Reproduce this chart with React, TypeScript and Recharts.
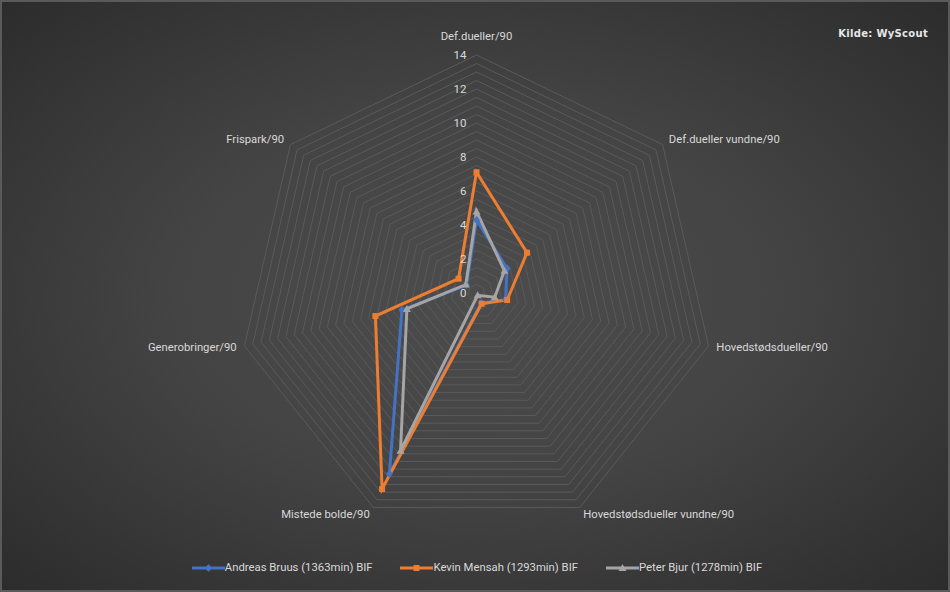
import {
  PolarAngleAxis,
  PolarGrid,
  PolarRadiusAxis,
  Radar,
  RadarChart,
} from 'recharts';

const metrics = [
  'Def.dueller/90',
  'Def.dueller vundne/90',
  'Hovedstødsdueller/90',
  'Hovedstødsdueller vundne/90',
  'Mistede bolde/90',
  'Generobringer/90',
  'Frispark/90',
];
const andreas = [4.3, 2.3, 1.75, 0.65, 11.8, 4.5, 0.75];
const kevin = [7.1, 3.8, 1.85, 0.7, 12.8, 6.1, 1.35];
const peter = [4.8, 2.1, 1.1, 0.15, 10.3, 4.2, 0.8];

const seriesNames = [
  'Andreas Bruus (1363min) BIF',
  'Kevin Mensah (1293min) BIF',
  'Peter Bjur (1278min) BIF',
];
const seriesColors = ['#4472C4', '#ED7D31', '#A5A5A5'];
const seriesMarkers = ['diamond', 'square', 'triangle'];

const radiusTicks = [0, 2, 4, 6, 8, 10, 12, 14];
const gridLevels = Array.from({ length: 29 }, (_, i) => i * 0.5);

const W = 950;
const H = 592;
const CX = 476.5;
const CY = 293;
const R = 238;
const MAX = 14;
const FONT = 'Roboto, "Liberation Sans", sans-serif';

const data = metrics.map((m, i) => ({
  metric: m,
  andreas: andreas[i],
  kevin: kevin[i],
  peter: peter[i],
}));

function Marker({ cx, cy, kind, color }: { cx: number; cy: number; kind: string; color: string }) {
  if (kind === 'square') {
    return <rect x={cx - 3} y={cy - 3} width={6} height={6} fill={color} />;
  }
  if (kind === 'triangle') {
    return <path d={`M${cx},${cy - 4}L${cx + 4},${cy + 3}L${cx - 4},${cy + 3}Z`} fill={color} />;
  }
  return <path d={`M${cx},${cy - 4}L${cx + 3.5},${cy}L${cx},${cy + 4}L${cx - 3.5},${cy}Z`} fill={color} />;
}

const makeDot = (i: number) => (props: any) => (
  <Marker
    key={`dot-${i}-${props.index}`}
    cx={props.cx}
    cy={props.cy}
    kind={seriesMarkers[i]}
    color={seriesColors[i]}
  />
);

function AngleTick(props: any) {
  const { x, y, textAnchor, payload } = props;
  const top = textAnchor === 'middle';
  return (
    <text
      x={x}
      y={y}
      dy={top ? -11 : 0}
      textAnchor={textAnchor}
      dominantBaseline="central"
      fill="#d9d9d9"
      fontSize={11.3}
      fontFamily={FONT}
    >
      {payload.value}
    </text>
  );
}

function RadiusTick(props: any) {
  const { x, y, payload } = props;
  return (
    <text
      x={x - 10}
      y={y}
      textAnchor="end"
      dominantBaseline="central"
      fill="#d9d9d9"
      fontSize={11.5}
      fontFamily={FONT}
    >
      {payload.value}
    </text>
  );
}

export default function App() {
  const keys = ['andreas', 'kevin', 'peter'];
  return (
    <div
      style={{
        position: 'absolute',
        left: 0,
        top: 0,
        width: W,
        height: H,
        boxSizing: 'border-box',
        border: '2px solid #5a5a5a',
        background: 'radial-gradient(ellipse at 50% 50%, #4c4c4c 0%, #444444 45%, #2c2c2c 100%)',
        fontFamily: FONT,
      }}
    >
      <div style={{ position: 'absolute', left: -2, top: -2 }}>
        <RadarChart
          width={W}
          height={H}
          data={data}
          cx={CX}
          cy={CY}
          outerRadius={R}
          margin={{ top: 0, right: 0, bottom: 0, left: 0 }}
        >
          <PolarGrid
            gridType="polygon"
            radialLines={false}
            polarRadius={gridLevels.map((v) => (v / MAX) * R)}
            stroke="#5a5a5a"
            strokeWidth={1}
          />
          <PolarAngleAxis dataKey="metric" tick={<AngleTick />} tickLine={false} axisLine={false} tickSize={8} />
          <PolarRadiusAxis
            angle={90}
            domain={[0, MAX]}
            ticks={radiusTicks as any}
            tick={<RadiusTick />}
            axisLine={false}
            tickLine={false}
          />
          {keys.map((k, i) => (
            <Radar
              key={k}
              name={seriesNames[i]}
              dataKey={k}
              stroke={seriesColors[i]}
              strokeWidth={3}
              fill="none"
              fillOpacity={0}
              dot={makeDot(i)}
              isAnimationActive={false}
            />
          ))}
        </RadarChart>
      </div>
      <div
        style={{
          position: 'absolute',
          right: 20,
          top: 26,
          color: '#e6e6e6',
          fontSize: 10,
          fontWeight: 'bold',
          fontFamily: '"DejaVu Sans", sans-serif',
          letterSpacing: 0.3,
        }}
      >
        Kilde: WyScout
      </div>
      <div
        style={{
          position: 'absolute',
          left: 0,
          top: 559,
          width: W,
          display: 'flex',
          justifyContent: 'center',
          gap: 28,
          color: '#d9d9d9',
          fontSize: 11.3,
        }}
      >
        {seriesNames.map((n, i) => (
          <div key={n} style={{ display: 'flex', alignItems: 'center' }}>
            <svg width={33} height={12}>
              <line x1={0} y1={6} x2={33} y2={6} stroke={seriesColors[i]} strokeWidth={3} />
              <Marker cx={16.5} cy={6} kind={seriesMarkers[i]} color={seriesColors[i]} />
            </svg>
            <span>{n}</span>
          </div>
        ))}
      </div>
    </div>
  );
}
